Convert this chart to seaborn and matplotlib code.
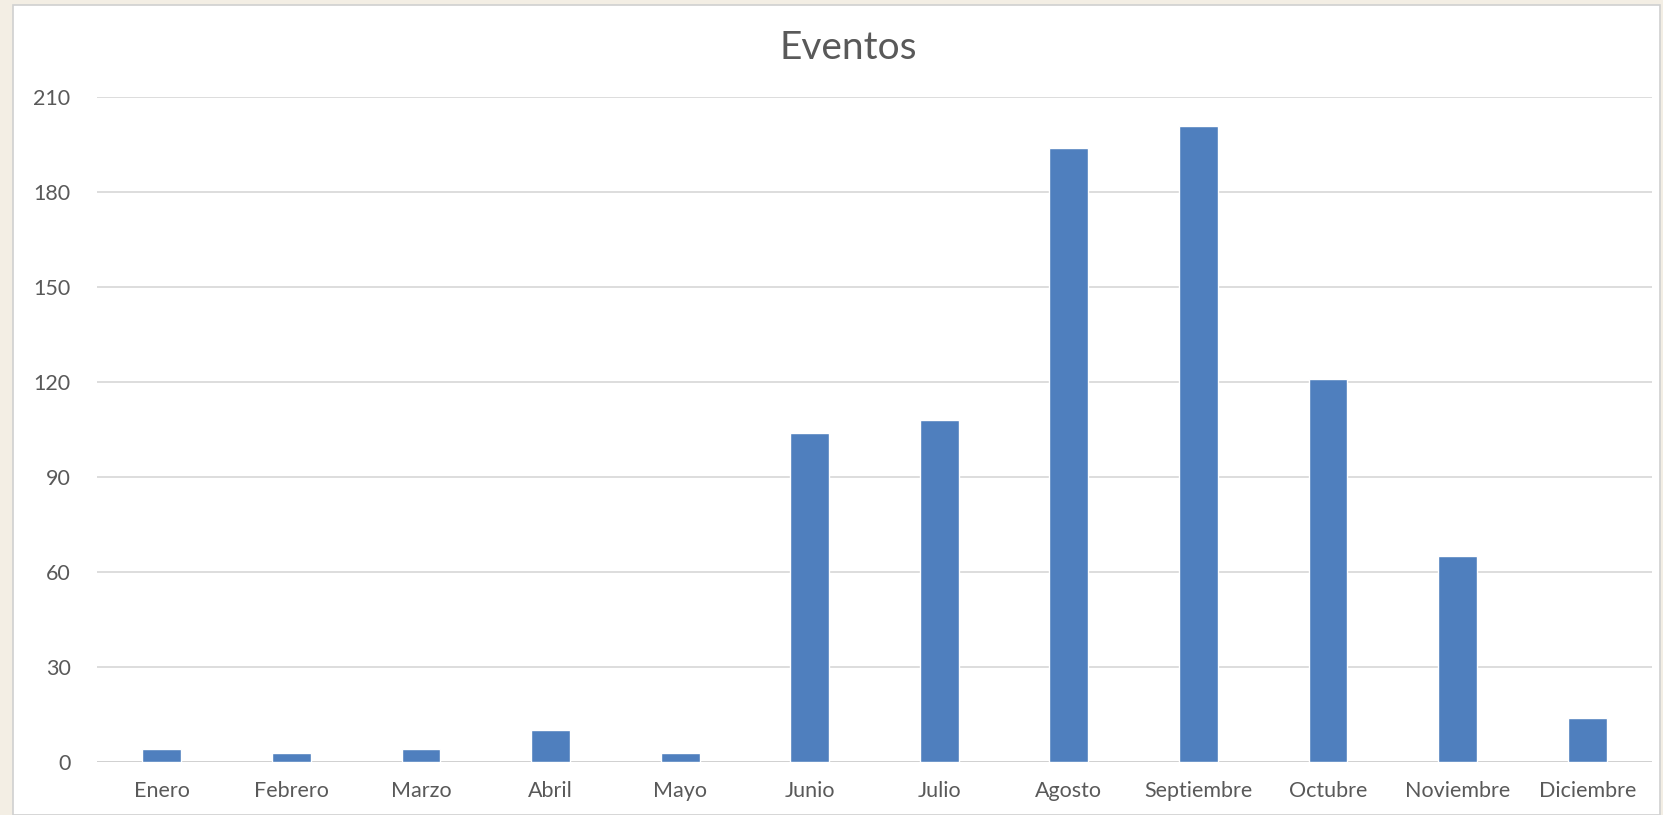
import matplotlib
matplotlib.use("Agg")
import matplotlib.pyplot as plt
import seaborn as sns
import pandas as pd
from matplotlib.patches import Rectangle

months = ["Enero", "Febrero", "Marzo", "Abril", "Mayo", "Junio", "Julio",
          "Agosto", "Septiembre", "Octubre", "Noviembre", "Diciembre"]
eventos = [4, 3, 4, 10, 3, 104, 108, 194, 201, 121, 65, 14]
yticks = [0, 30, 60, 90, 120, 150, 180, 210]
title = "Eventos"

df = pd.DataFrame({"mes": months, "eventos": eventos})

sns.set_theme(style="white")
plt.rcParams["font.family"] = ["Lato", "DejaVu Sans"]

W, H = 1663, 815
fig = plt.figure(figsize=(W / 100, H / 100), dpi=100)
fig.patch.set_facecolor("#f3eee4")
# white chart area with thin border
fig.patches.append(Rectangle((13 / W, 0), (1660 - 13) / W, 1 - 5 / H,
                             transform=fig.transFigure, facecolor="white",
                             edgecolor="#d0d0d0", linewidth=1.2, zorder=-10))

ax = fig.add_axes([97 / W, 1 - 762 / H, (1652 - 97) / W, (762 - 97) / H])
ax.set_facecolor("none")
sns.barplot(data=df, x="mes", y="eventos", color="#4f7fbe", saturation=1,
            width=0.30, ax=ax, zorder=3)

ax.set_ylim(0, 210)
ax.set_xlim(-0.5, len(months) - 0.5)
ax.set_yticks(yticks)
ax.set_yticklabels([str(v) for v in yticks])
ax.yaxis.grid(True, color="#dadada", linewidth=1.3)
ax.set_axisbelow(True)
for s in ax.spines.values():
    s.set_visible(False)
ax.axhline(0, color="#d0d0d0", linewidth=1.3, zorder=2)
ax.tick_params(axis="both", length=0, labelsize=15.5, colors="#595959")
ax.tick_params(axis="y", pad=19)
ax.tick_params(axis="x", pad=14)
ax.set_xlabel("")
ax.set_ylabel("")
fig.text(848 / W, 1 - 48 / H, title, ha="center", va="center",
         fontsize=28, color="#595959")

fig.savefig("out.png", dpi=100, facecolor=fig.get_facecolor())
